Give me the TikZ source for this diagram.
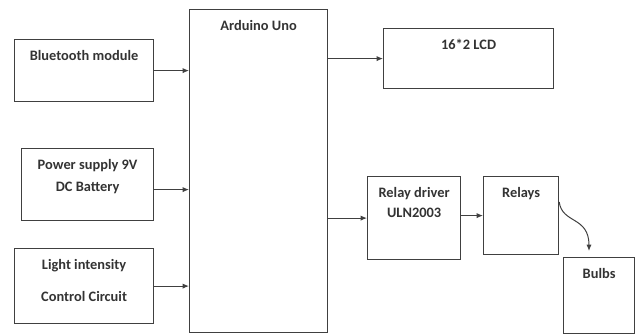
\documentclass[tikz,border=0pt]{standalone}
\usepackage{fontspec}
\setmainfont{Carlito}
\usetikzlibrary{positioning, arrows.meta, calc}

\begin{document}
\begin{tikzpicture}[
    x=1pt, y=-1pt,
    font=\fontsize{14.4}{17}\selectfont\bfseries,
    block/.style={draw=black!75, line width=1.2pt, anchor=north west, inner sep=0pt},
    tag/.style={anchor=north, align=center, yshift=-8pt, text=black!80},
    link/.style={-{Latex[length=2.2mm, width=1.8mm]}, draw=black!75, line width=1.0pt}
]
\useasboundingbox (0,0) rectangle (635,334);
\node[block, minimum width=139pt, minimum height=62pt, label={[tag]north:Bluetooth module}] (bt) at (14,39) {};
\node[block, minimum width=132pt, minimum height=72pt, label={[tag]north:Power supply 9V\\[5pt]DC Battery}] (pwr) at (21,148) {};
\node[block, minimum width=139pt, minimum height=75pt, label={[tag]north:Light intensity\\[15pt]Control Circuit}] (light) at (14,248) {};
\node[block, minimum width=138pt, minimum height=323pt, label={[tag]north:Arduino Uno}] (uno) at (189,9) {};
\node[block, minimum width=170pt, minimum height=60pt, label={[tag]north:16*2 LCD}] (lcd) at (383,28) {};
\node[block, minimum width=93pt, minimum height=83pt, label={[tag]north:Relay driver\\[3pt]ULN2003}] (drv) at (367,176) {};
\node[block, minimum width=75pt, minimum height=78pt, label={[tag]north:Relays}] (rly) at (483,176) {};
\node[block, minimum width=71pt, minimum height=76pt, label={[tag]north:Bulbs}] (bulb) at (563,257) {};
\foreach \n in {bt,light}{\draw[link] (\n.east)--(\n.east -| uno.west);}
\draw[link] ([yshift=-5pt]pwr.east)--([yshift=-5pt]pwr.east -| uno.west);
\draw[link] (lcd.west -| uno.east)--(lcd.west);
\draw[link] (uno.east |- drv.west)--(drv.west);
\draw[link] (drv.east |- rly.west)--(rly.west);
\draw[link] ([yshift=-26pt]rly.north east) .. controls +(3,22) and +(0,-35) .. ([xshift=26pt,yshift=6pt]bulb.north west);
\end{tikzpicture}
\end{document}
